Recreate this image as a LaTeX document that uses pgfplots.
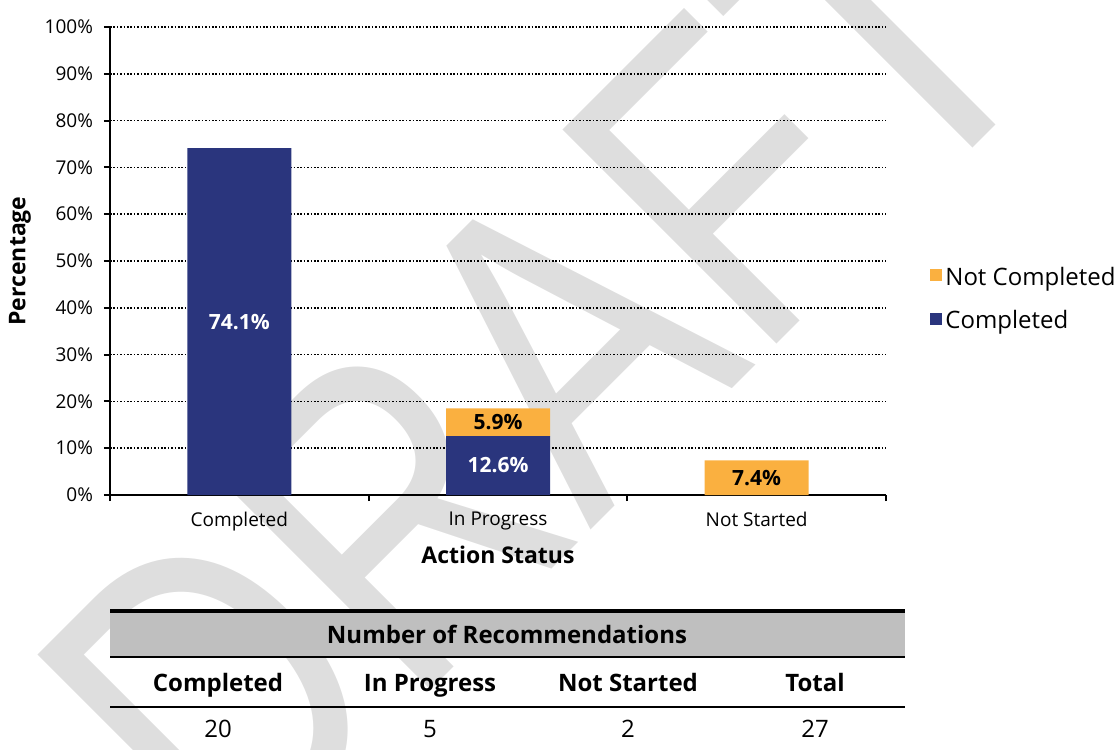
\documentclass[border=0pt]{standalone}
\usepackage{fontspec}
\setmainfont{Open Sans}
\newfontfamily\wmfont{Liberation Sans}
\usepackage{pgfplots}
\pgfplotsset{compat=1.18}

\definecolor{navy}{HTML}{2A357D}
\definecolor{amber}{HTML}{FAB040}
\definecolor{wmgray}{HTML}{DEDEDE}
\definecolor{hdrgray}{HTML}{BFBFBF}

\begin{document}
\begin{tikzpicture}
\useasboundingbox (-55pt,-127pt) rectangle (504pt,247.5pt);
% watermark, behind everything
\node[rotate=45, xscale=0.8, anchor=base west, inner sep=0pt, text=wmgray,
      font=\wmfont\fontsize{220}{220}\selectfont] at (60.5pt,-197.5pt) {DRAFT};

\begin{axis}[
  at={(0pt,0pt)}, anchor=south west,
  scale only axis, width=388pt, height=234pt,
  ybar stacked, bar width=52pt,
  xmin=-0.5, xmax=2.5, ymin=0, ymax=100,
  axis x line*=bottom, axis y line*=left,
  axis line style={line width=1pt},
  tick align=outside, major tick length=3pt,
  every tick/.style={black, line width=1pt},
  xtick={-0.5,0.5,1.5,2.5}, xticklabels={},
  extra x ticks={0,1,2},
  extra x tick labels={Completed,In Progress,Not Started},
  extra x tick style={major tick length=0pt, tick label style={yshift=-5pt}},
  ytick={0,10,...,100},
  yticklabel={\pgfmathprintnumber{\tick}\%},
  yticklabel style={xshift=-2pt},
  /pgf/number format/assume math mode=true,
  tick label style={font=\fontsize{9.5}{11}\selectfont},
  ymajorgrids,
  major grid style={black, line width=0.8pt, dash pattern=on 0.8pt off 0.9pt},
  xlabel={Action Status},
  xlabel style={at={(axis description cs:0.5,-0.128)}, anchor=center,
                font=\bfseries\fontsize{11.5}{13}\selectfont},
  ylabel={Percentage},
  ylabel style={at={(axis description cs:-0.116,0.5)}, anchor=center,
                font=\bfseries\fontsize{11.5}{13}\selectfont},
  reverse legend,
  legend cell align=left,
  legend style={at={(axis description cs:1.0567,0.4177)}, anchor=west,
                draw=none, fill=none, inner sep=0pt, row sep=8pt,
                font=\fontsize{12}{14}\selectfont, nodes={inner sep=1.5pt}},
  legend image code/.code={\fill[#1] (0pt,-1.7pt) rectangle (6pt,4.3pt);},
]
\addplot[fill=navy, draw=none] coordinates {(0,74.1) (1,12.6) (2,0)};
\addlegendentry{Completed}
\addplot[fill=amber, draw=none] coordinates {(0,0) (1,5.9) (2,7.4)};
\addlegendentry{Not Completed}

% centres of the bar segments, labelled after the axis
\coordinate (lA) at (axis cs:0,37.05);
\coordinate (lB) at (axis cs:1,6.3);
\coordinate (lC) at (axis cs:1,15.55);
\coordinate (lD) at (axis cs:2,3.7);
\end{axis}

\begin{scope}[every node/.style={font=\bfseries\fontsize{10.5}{12}\selectfont}]
\node[text=white] at (lA) {74.1\%};
\node[text=white] at (lB) {12.6\%};
\node[text=black] at (lC) {5.9\%};
\node[text=black] at (lD) {7.4\%};
\end{scope}

% table of counts
\fill[hdrgray] (0pt,-58pt) rectangle (397.5pt,-81pt);
\draw[line width=1.75pt] (0pt,-58pt) -- (397.5pt,-58pt);
\draw[line width=1.25pt] (0pt,-81pt) -- (397.5pt,-81pt);
\draw[line width=1.25pt] (0pt,-106pt) -- (397.5pt,-106pt);
\begin{scope}[every node/.style={font=\fontsize{12}{14}\selectfont, anchor=base, inner sep=0pt}]
\node[font=\bfseries\fontsize{12}{14}\selectfont] at (198.5pt,-74pt) {Number of Recommendations};
\node[font=\bfseries\fontsize{12}{14}\selectfont] at (54pt,-98pt) {Completed};
\node[font=\bfseries\fontsize{12}{14}\selectfont] at (160pt,-98pt) {In Progress};
\node[font=\bfseries\fontsize{12}{14}\selectfont] at (259pt,-98pt) {Not Started};
\node[font=\bfseries\fontsize{12}{14}\selectfont] at (352.5pt,-98pt) {Total};
\node at (54pt,-121pt) {20};
\node at (160pt,-121pt) {5};
\node at (259pt,-121pt) {2};
\node at (352.5pt,-121pt) {27};
\end{scope}
\end{tikzpicture}
\end{document}
